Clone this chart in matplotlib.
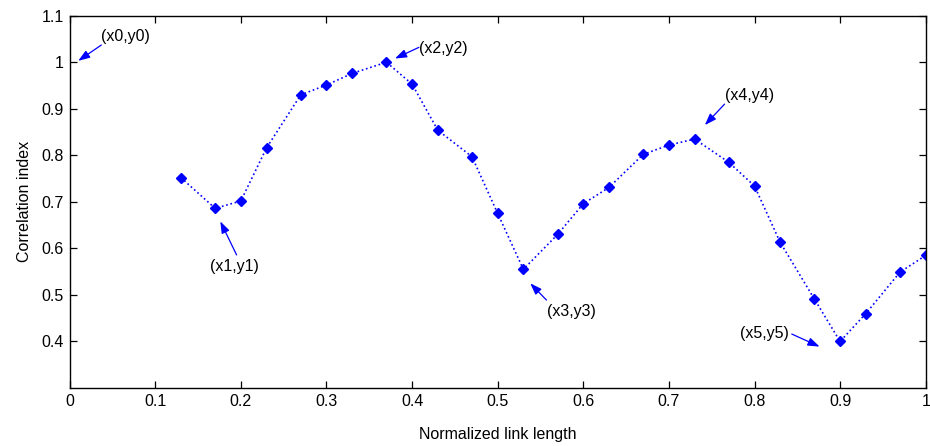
import matplotlib
matplotlib.use('Agg')
import matplotlib.pyplot as plt

# normalized link length vs correlation index
x_vals = [0.13, 0.17, 0.20, 0.23, 0.27, 0.30, 0.33, 0.37, 0.40, 0.43, 0.47, 0.50, 0.53, 0.57,
          0.60, 0.63, 0.67, 0.70, 0.73, 0.77, 0.80, 0.83, 0.87, 0.90, 0.93, 0.97, 1.00]
y_vals = [0.752, 0.686, 0.702, 0.816, 0.930, 0.951, 0.976, 1.000, 0.953, 0.854, 0.797, 0.675, 0.555,
          0.630, 0.696, 0.731, 0.802, 0.822, 0.835, 0.785, 0.734, 0.613, 0.491, 0.400, 0.460, 0.549, 0.585]

# annotation labels, arrow tip, arrow tail, text position, horizontal alignment
labels = ['(x0,y0)', '(x1,y1)', '(x2,y2)', '(x3,y3)', '(x4,y4)', '(x5,y5)']
tips = [(0.010, 1.003), (0.176, 0.658), (0.380, 1.008), (0.538, 0.525), (0.742, 0.865), (0.876, 0.389)]
tails = [(0.037, 1.037), (0.195, 0.586), (0.408, 1.032), (0.557, 0.489), (0.765, 0.910), (0.8435, 0.416)]
text_pos = [(0.037, 1.056), (0.193, 0.561), (0.408, 1.029), (0.5575, 0.464), (0.766, 0.928), (0.8407, 0.418)]
aligns = ['left', 'center', 'left', 'left', 'left', 'right']

xticks = [0, 0.1, 0.2, 0.3, 0.4, 0.5, 0.6, 0.7, 0.8, 0.9, 1]
xticklabels = ['0', '0.1', '0.2', '0.3', '0.4', '0.5', '0.6', '0.7', '0.8', '0.9', '1']
yticks = [0.4, 0.5, 0.6, 0.7, 0.8, 0.9, 1.0, 1.1]
yticklabels = ['0.4', '0.5', '0.6', '0.7', '0.8', '0.9', '1', '1.1']

plt.rcParams['font.family'] = ['Liberation Sans', 'DejaVu Sans']
fs = 11.5

fig = plt.figure(figsize=(9.3, 4.46), dpi=100)
ax = fig.add_axes([0.0749, 0.130, 0.9205, 0.8348])

ax.plot(x_vals, y_vals, color='blue', linestyle=':', linewidth=1.2,
        marker='D', markersize=5, markerfacecolor='blue', markeredgecolor='blue')

for lab, tip, tail, tp, ha in zip(labels, tips, tails, text_pos, aligns):
    ax.annotate('', xy=tip, xytext=tail,
                arrowprops=dict(arrowstyle='-|>,head_length=0.7,head_width=0.25',
                                color='blue', lw=0.9, shrinkA=0, shrinkB=0))
    ax.text(tp[0], tp[1], lab, ha=ha, va='center', color='black', fontsize=fs)

ax.set_xlim(0, 1)
ax.set_ylim(0.3, 1.1)
ax.set_xticks(xticks)
ax.set_xticklabels(xticklabels)
ax.set_yticks(yticks)
ax.set_yticklabels(yticklabels)
ax.tick_params(direction='in', length=5, width=0.9, top=True, right=True, labelsize=fs, pad=4)
for s in ax.spines.values():
    s.set_linewidth(1.0)
ax.set_xlabel('Normalized link length', fontsize=fs, labelpad=13)
ax.set_ylabel('Correlation index', fontsize=fs, labelpad=7)

plt.savefig('out.png', dpi=100)
